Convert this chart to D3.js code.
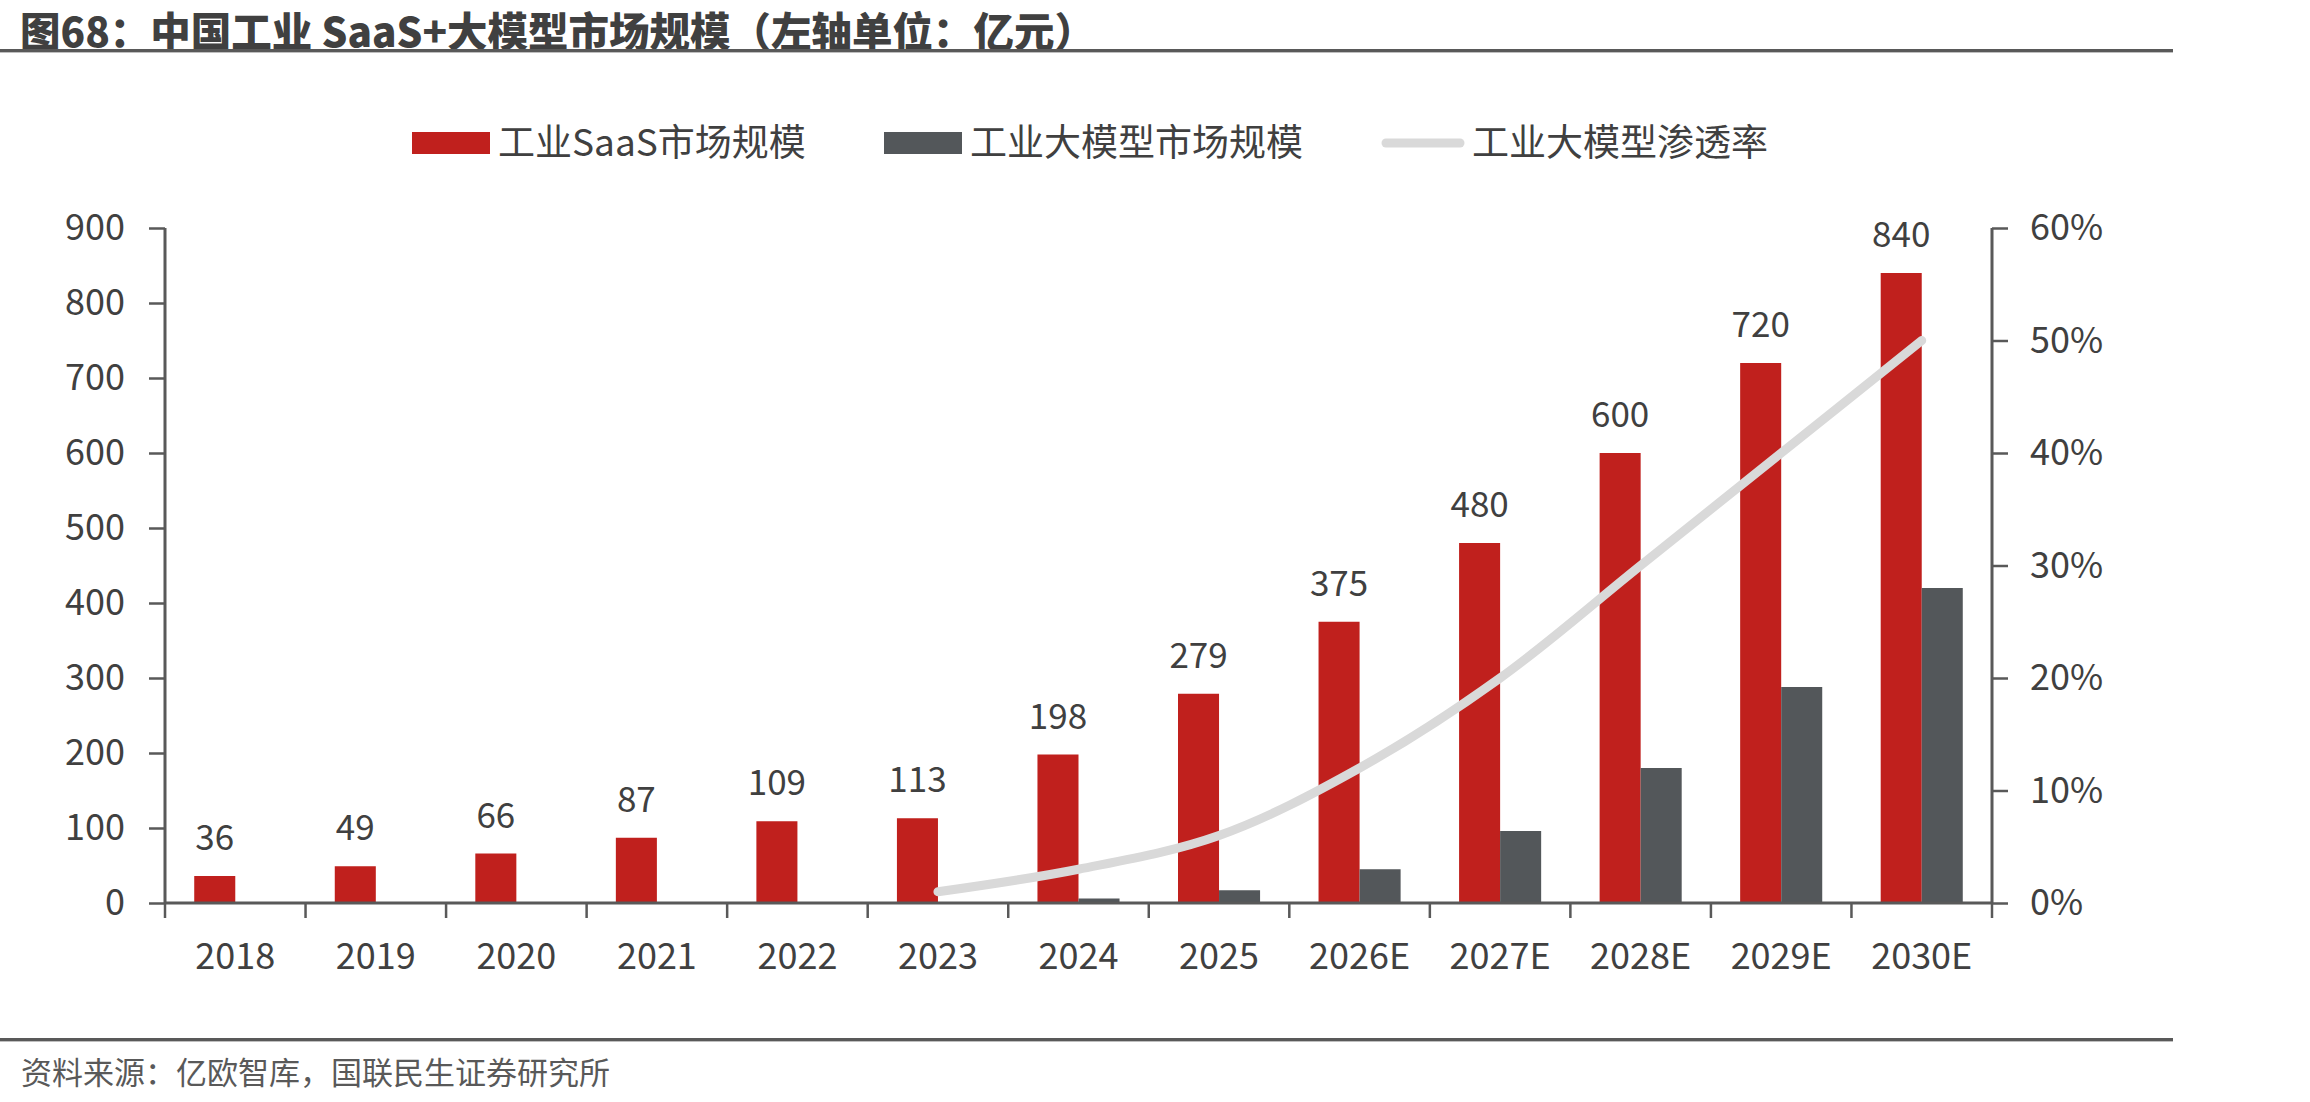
<!DOCTYPE html>
<html>
<head>
<meta charset="utf-8">
<script src="https://cdn.jsdelivr.net/npm/d3@7/dist/d3.min.js"></script>
<style>
  html, body { margin: 0; padding: 0; background: #ffffff; }
  svg { display: block; }
</style>
</head>
<body>
<div id="chart"></div>
<script>
// 数据
const years = ["2018", "2019", "2020", "2021", "2022", "2023", "2024", "2025", "2026E", "2027E", "2028E", "2029E", "2030E"];
const saasSize = [36, 49, 66, 87, 109, 113, 198, 279, 375, 480, 600, 720, 840];
const llmSize = [null, null, null, null, null, 1.1, 6, 17, 45, 96, 180, 288, 420];
const penetration = [null, null, null, null, null, 0.01, 0.03, 0.06, 0.12, 0.20, 0.30, 0.40, 0.50];
const leftTicks = [0, 100, 200, 300, 400, 500, 600, 700, 800, 900];
const rightTicks = [0, 0.1, 0.2, 0.3, 0.4, 0.5, 0.6];

const W = 2310, H = 1102;
const plot = { left: 165, right: 1992, top: 228, bottom: 903 };
const red = "#c0201d", grey = "#53575a", lineGrey = "#d9d9d9";
const axisColor = "#595959", textColor = "#404040";
const font = "'Noto Sans CJK SC', 'Noto Sans', sans-serif";

const svg = d3.select("#chart").append("svg")
    .attr("width", W)
    .attr("height", H)
    .style("font-family", font);

// 标题
svg.append("text")
    .attr("x", 20)
    .attr("y", 47)
    .attr("fill", "#404040")
    .style("font-size", "40.5px")
    .style("font-weight", "900")
    .text("图68：中国工业 SaaS+大模型市场规模（左轴单位：亿元）");

svg.append("rect").attr("x", 0).attr("y", 49).attr("width", 2173).attr("height", 3).attr("fill", "#595959");
svg.append("rect").attr("x", 0).attr("y", 52).attr("width", 2173).attr("height", 1).attr("fill", "#bfbfbf");

// 比例尺
const x0 = d3.scaleBand()
    .domain(years)
    .range([plot.left, plot.right])
    .paddingInner(0.416)
    .paddingOuter(0.208);

const x1 = d3.scaleBand()
    .domain(["saas", "llm"])
    .range([0, x0.bandwidth()]);

const yL = d3.scaleLinear().domain([0, 900]).range([plot.bottom, plot.top]);
const yR = d3.scaleLinear().domain([0, 0.6]).range([plot.bottom, plot.top]);

// 柱子
const g = svg.append("g");
years.forEach((yr, i) => {
    const bx = x0(yr);
    g.append("rect")
        .attr("x", bx + x1("saas"))
        .attr("y", yL(saasSize[i]))
        .attr("width", x1.bandwidth())
        .attr("height", yL(0) - yL(saasSize[i]))
        .attr("fill", red);
    if (llmSize[i] != null) {
        g.append("rect")
            .attr("x", bx + x1("llm"))
            .attr("y", yL(llmSize[i]))
            .attr("width", x1.bandwidth())
            .attr("height", yL(0) - yL(llmSize[i]))
            .attr("fill", grey);
    }
    // 数据标签
    g.append("text")
        .attr("x", bx + x1("saas") + x1.bandwidth() / 2)
        .attr("y", yL(saasSize[i]) - 26)
        .attr("text-anchor", "middle")
        .attr("fill", textColor)
        .style("font-size", "35px")
        .text(saasSize[i]);
});

// 左轴
const leftAxis = svg.append("g")
    .attr("transform", `translate(${plot.left},0)`)
    .call(d3.axisLeft(yL).tickValues(leftTicks).tickSize(16).tickPadding(24));

// 右轴
const rightAxis = svg.append("g")
    .attr("transform", `translate(${plot.right},0)`)
    .call(d3.axisRight(yR).tickValues(rightTicks).tickSize(16).tickPadding(22).tickFormat(d3.format(".0%")));

// X 轴
const xAxis = svg.append("g")
    .attr("transform", `translate(0,${plot.bottom})`)
    .call(d3.axisBottom(x0).tickSize(0).tickPadding(40));

// 类别分隔刻度
const step = x0.step();
const boundaries = years.map(y => x0(y) - x0.paddingOuter() * step).concat([plot.right]);
svg.append("g").selectAll("line")
    .data(boundaries)
    .join("line")
    .attr("x1", d => d).attr("x2", d => d)
    .attr("y1", plot.bottom).attr("y2", plot.bottom + 15)
    .attr("stroke", axisColor)
    .attr("stroke-width", 2.5);

[leftAxis, rightAxis, xAxis].forEach(ax => {
    ax.select(".domain").attr("stroke", axisColor).attr("stroke-width", 3);
    ax.selectAll(".tick line").attr("stroke", axisColor).attr("stroke-width", 2.5);
    ax.selectAll(".tick text")
        .attr("fill", textColor)
        .style("font-size", "36px")
        .style("font-family", font);
});
leftAxis.select(".domain").attr("d", `M0,${plot.top}V${plot.bottom}`);
rightAxis.select(".domain").attr("d", `M0,${plot.top}V${plot.bottom}`);
xAxis.select(".domain").attr("d", `M${plot.left},0H${plot.right}`);

// 渗透率折线
const lineData = years.map((yr, i) => ({ yr, v: penetration[i] })).filter(d => d.v != null);
const line = d3.line()
    .x(d => x0(d.yr) + x0.bandwidth() / 2)
    .y(d => yR(d.v))
    .curve(d3.curveCatmullRom.alpha(0.5));

svg.append("path")
    .datum(lineData)
    .attr("d", line)
    .attr("fill", "none")
    .attr("stroke", lineGrey)
    .attr("stroke-width", 9)
    .attr("stroke-linecap", "round");

// 图例
const legend = svg.append("g").attr("transform", "translate(0,143)");
legend.append("rect").attr("x", 412).attr("y", -11).attr("width", 78).attr("height", 22).attr("fill", red);
legend.append("text").attr("x", 498).attr("y", 0).attr("dy", "0.35em")
    .attr("fill", textColor).style("font-size", "37px").text("工业SaaS市场规模");
legend.append("rect").attr("x", 884).attr("y", -11).attr("width", 78).attr("height", 22).attr("fill", grey);
legend.append("text").attr("x", 970).attr("y", 0).attr("dy", "0.35em")
    .attr("fill", textColor).style("font-size", "37px").text("工业大模型市场规模");
legend.append("line").attr("x1", 1386).attr("x2", 1460).attr("y1", 0).attr("y2", 0)
    .attr("stroke", lineGrey).attr("stroke-width", 9).attr("stroke-linecap", "round");
legend.append("text").attr("x", 1472).attr("y", 0).attr("dy", "0.35em")
    .attr("fill", textColor).style("font-size", "37px").text("工业大模型渗透率");

// 底部来源
svg.append("rect").attr("x", 0).attr("y", 1038).attr("width", 2173).attr("height", 3).attr("fill", "#595959");
svg.append("rect").attr("x", 0).attr("y", 1041).attr("width", 2173).attr("height", 1).attr("fill", "#bfbfbf");
svg.append("text")
    .attr("x", 21)
    .attr("y", 1084)
    .attr("fill", "#595959")
    .style("font-size", "31px")
    .text("资料来源：亿欧智库，国联民生证券研究所");
</script>
</body>
</html>
